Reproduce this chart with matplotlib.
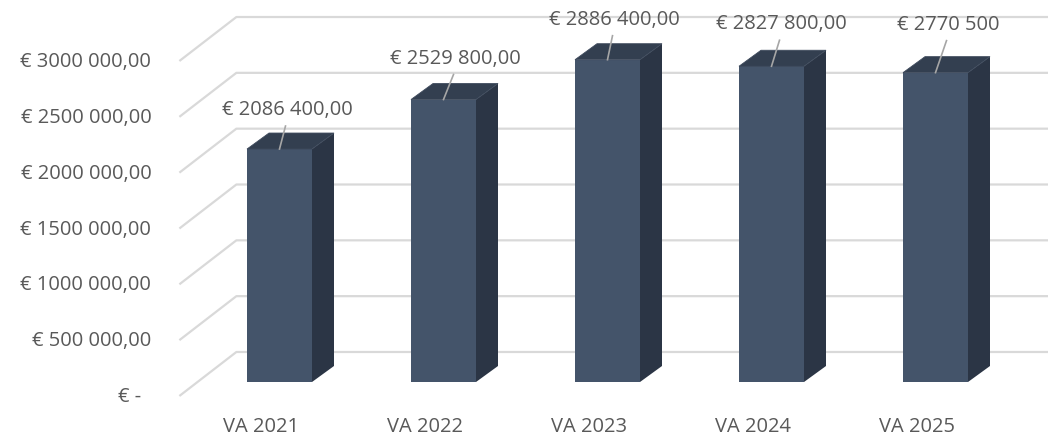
import numpy as np
import matplotlib.pyplot as plt
from matplotlib.patches import Polygon, Rectangle

categories = ['VA 2021', 'VA 2022', 'VA 2023', 'VA 2024', 'VA 2025']
values = [2086400, 2529800, 2886400, 2827800, 2770500]
value_labels = ['€ 2086 400,00', '€ 2529 800,00', '€ 2886 400,00', '€ 2827 800,00', '€ 2770 500']
ticks = [0, 500000, 1000000, 1500000, 2000000, 2500000, 3000000]
tick_labels = ['€ -', '€ 500 000,00', '€ 1000 000,00', '€ 1500 000,00',
               '€ 2000 000,00', '€ 2500 000,00', '€ 3000 000,00']

# label placement (pixels relative to top of bar front)
lab_dx = [8, 12, 7, 10, 13]
lab_dy = [40, 42, 41, 43, 49]

W, H = 1048, 439
fig = plt.figure(figsize=(W / 100, H / 100), dpi=100)
ax = fig.add_axes([0, 0, 1, 1])
ax.axis('off')

# pixel scales: 164 px per category, 55.83 px per 500 000 euro
PX = 1 / 164
PY = 500000 / 55.83
x0_pix, y0_pix = 279.5, 383
ax.set_xlim(-x0_pix * PX, (W - x0_pix) * PX)
ax.set_ylim(-(H - y0_pix) * PY, y0_pix * PY)

# depth of the floor (px) and where bars sit inside it
DXF, DYF = 57, 44
front_f, back_f = -0.318, 0.682
bw = 65 * PX
bdx, bdy = 22 * PX, 16 * PY

font = 'Open Sans'
fs = 14.5
tcol = '#595959'
gcol = '#D9D9D9'

def depth(x, v, f):
    return x + f * DXF * PX, v + f * DYF * PY

# gridlines: left wall diagonal + back wall
for t in ticks:
    xa, ya = depth(-0.5, t, front_f)
    xb, yb = depth(-0.5, t, back_f)
    xc, yc = depth(len(categories) - 0.5, t, back_f)
    ax.plot([xa, xb, xc + 1], [ya, yb, yc], color=gcol, lw=1.6, zorder=1,
            solid_capstyle='butt')

for t, lab in zip(ticks, tick_labels):
    xa, ya = depth(-0.5, t, front_f)
    # the zero label sits a bit further left of the axis than the others
    off = 38 if t == 0 else 28
    ax.text(xa - off * PX, ya, lab, ha='right', va='center', fontsize=fs,
            color=tcol, family=font)

front_c = '#44546A'
top_c = '#333F50'
side_c = '#2B3545'

for i, (v, lab) in enumerate(zip(values, value_labels)):
    xl, xr = i - bw / 2, i + bw / 2
    ax.add_patch(Rectangle((xl, 0), bw, v, facecolor=front_c, edgecolor='none', zorder=3))
    ax.add_patch(Polygon([(xr, 0), (xr, v), (xr + bdx, v + bdy), (xr + bdx, bdy)],
                         closed=True, facecolor=side_c, edgecolor='none', zorder=3))
    ax.add_patch(Polygon([(xl, v), (xr, v), (xr + bdx, v + bdy), (xl + bdx, v + bdy)],
                         closed=True, facecolor=top_c, edgecolor='#3E4A5C', lw=0.6, zorder=4))
    lx = i + lab_dx[i] * PX
    ly = v + lab_dy[i] * PY
    ax.text(lx, ly, lab, ha='center', va='center', fontsize=fs, color=tcol,
            family=font, zorder=5)
    ax.plot([lx - 2 * PX, i], [ly - 17 * PY, v], color='#A6A6A6', lw=1.2, zorder=5)
    fx, fy = depth(i, 0, front_f)
    ax.text(fx, fy - 30 * PY, categories[i], ha='center', va='center', fontsize=fs,
            color=tcol, family=font)

fig.savefig('out.png', dpi=100)
